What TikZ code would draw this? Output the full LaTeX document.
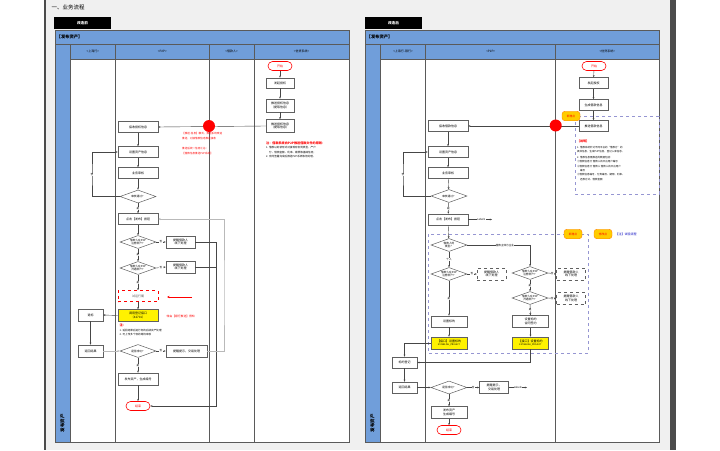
\documentclass[tikz,border=0pt]{standalone}
\usepackage{fontspec}
\newfontfamily\cjk{Noto Sans CJK SC}
\usetikzlibrary{shapes.geometric,arrows.meta}
\definecolor{hblue}{RGB}{112,158,218}
\definecolor{panel}{RGB}{240,240,240}
\definecolor{tagfill}{RGB}{255,204,0}
\definecolor{lav}{RGB}{150,150,210}
\definecolor{lnk}{RGB}{70,70,70}
\definecolor{loopc}{RGB}{185,185,185}
\definecolor{lanec}{RGB}{90,90,90}
\tikzset{
 every node/.style={font=\cjk\fontsize{3}{3.6}\selectfont, inner sep=0.5pt},
 lane/.style={draw=lanec, line width=0.6pt},
 stepbox/.style={draw=gray!75!black, fill=white, line width=0.5pt, minimum width=40pt, minimum height=11pt, align=center},
 smallbox/.style={stepbox, minimum width=29pt, minimum height=12pt},
 dashbox/.style={smallbox, dashed},
 ybox/.style={stepbox, fill=yellow, minimum height=12pt},
 trialbox/.style={stepbox, draw=red, dashed, text=gray!70!black},
 decision/.style={diamond, aspect=2.8, draw=gray!75!black, fill=white, line width=0.5pt, inner sep=0pt, minimum width=36pt, minimum height=13pt, align=center, font=\cjk\fontsize{2.7}{3.2}\selectfont},
 terminal/.style={draw=red, fill=white, text=red, rounded corners=4.5pt, minimum width=24pt, minimum height=9pt, line width=0.6pt},
 tag/.style={fill=tagfill, draw=orange, rounded corners=3pt, text=red, minimum width=18pt, minimum height=9.5pt, font=\cjk\fontsize{2.8}{3.3}\selectfont},
 arr/.style={draw=lnk, line width=0.4pt, -{Stealth[length=2.2pt,width=1.8pt]}},
 plain/.style={draw=lnk, line width=0.4pt},
 loopl/.style={draw=loopc, line width=0.8pt, -{Stealth[length=2.4pt,width=2pt]}},
 lbl/.style={fill=white, inner sep=0.3pt, font=\cjk\fontsize{2.6}{3}\selectfont},
 lanetxt/.style={font=\cjk\fontsize{3}{3.6}\selectfont},
 notetxt/.style={anchor=north west, align=left, font=\cjk\fontsize{2.6}{4.2}\selectfont},
 lavdash/.style={draw=lav, dashed, line width=0.5pt},
}
\begin{document}
\begin{tikzpicture}[x=1pt,y=-1pt]
\useasboundingbox (0,0) rectangle (720,450);
\fill[white] (0,0) rectangle (720,450);
\fill[panel] (46,0) rectangle (670,450);
\fill[gray!60!black] (44,0) rectangle (46,450);
\fill[gray!60!black] (670,0) rectangle (676,450);
\node[anchor=west, font=\cjk\fontsize{5.5}{6}\selectfont] (title) at (51,7) {一、业务流程};

% ================= LEFT (before) =================
\fill[black] (54,17) rectangle (111,29);
\node[font=\cjk\bfseries\fontsize{3.6}{4}\selectfont, text=white] (Ltab) at (82.5,23) {改造前};
\fill[white] (55,59) rectangle (349,442);
\fill[hblue] (55,30) rectangle (349,59);
\fill[hblue] (55,59) rectangle (70,442);
\draw[lane] (55,30) rectangle (349,442);
\draw[lane] (55,44) -- (349,44);
\draw[lane] (70,59) -- (349,59);
\draw[lane] (70,44) -- (70,442);
\draw[lane] (115.7,44) -- (115.7,442);
\draw[lane] (209,44) -- (209,442);
\draw[lane] (254,44) -- (254,442);
\node[anchor=west, font=\cjk\bfseries\fontsize{4.3}{5}\selectfont] (Lhdr) at (56,37) {【发布资产】};
\node[lanetxt] (Lh1) at (92.8,51.5) {<上海行>};
\node[lanetxt] (Lh2) at (162.3,51.5) {<P2P>};
\node[lanetxt] (Lh3) at (231.5,51.5) {<借款人>};
\node[lanetxt] (Lh4) at (301.5,51.5) {<信贷系统>};
\node[rotate=90, font=\cjk\bfseries\fontsize{4.5}{5}\selectfont] (Lvert) at (62.5,423) {发布资产};

\node[terminal] (Lstart) at (280,66) {开始};
\node[stepbox, minimum width=28pt, minimum height=10pt] (Lauth) at (280,83) {发起授权};
\node[stepbox, minimum width=28pt, minimum height=13pt] (Lpush1) at (280,105.5) {推送授权信息\\（提取信息）};
\node[stepbox, minimum width=28pt, minimum height=13pt] (Lpush2) at (280,126) {推送授权信息\\（提取信息）};
\node[stepbox] (Lrecv) at (138,127) {接收授权信息};
\node[stepbox] (Lset) at (138,152) {设置资产信息};
\node[stepbox] (Laudit) at (138,173) {业务审核};
\node[decision] (Ld0) at (138,196.5) {审核通过？};
\node[stepbox] (Lpub) at (138,219) {点击【发布】按钮};
\node[decision] (Ld1) at (138,242) {借款人在P2P\\注册账户？};
\node[smallbox] (Ln1) at (180.5,242) {提醒借款人\\线下处理};
\node[decision] (Ld2) at (138,268) {借款人在P2P\\开通账户？};
\node[smallbox] (Ln2) at (180.5,267) {提醒借款人\\线下处理};
\node[trialbox] (Ltrial) at (138,296) {试运行期};
\node[ybox] (Lapi) at (138,315.5) {调用登记接口\\（42701）};
\node[stepbox, minimum width=25pt, minimum height=12pt] (Lret) at (90.5,315) {退标};
\node[stepbox, minimum width=25pt, minimum height=12pt] (Lres) at (90.5,351) {返回结果};
\node[decision] (Ld3) at (138,351) {是否成功？};
\node[stepbox, minimum width=41pt, minimum height=12pt] (Ln3) at (186.5,351) {提醒提示，交易处理};
\node[stepbox, minimum height=12pt] (Lissue) at (138,379) {发布资产，生成编号};
\node[terminal] (Lend) at (138,406) {结束};

\coordinate (Lloop) at (92,175);
\coordinate (Lmx) at (216.5,406);
\coordinate (Lly) at (224,300);
\coordinate (Lra1) at (192,297);
\coordinate (Lra2) at (167,297);

\draw[arr] (Lstart) -- (Lauth);
\draw[arr] (Lauth) -- (Lpush1);
\draw[arr] (Lpush1) -- (Lpush2);
\draw[arr] (Lpush2.west) -- (Lrecv.east);
\node[circle, fill=red, minimum size=12pt, inner sep=0pt] (Lcirc) at (209,126) {};
\draw[arr] (Lrecv) -- (Lset);
\draw[arr] (Lset) -- (Laudit);
\draw[arr] (Laudit) -- (Ld0);
\draw[arr] (Ld0.west) -| (Lloop) |- (Lset.west);
\node[lbl] (Lno0) at (92,175) {否};
\draw[arr] (Ld0) -- node[lbl] (Lyes0) {是} (Lpub);
\draw[arr] (Lpub) -- (Ld1);
\draw[arr] (Ld1) -- node[lbl] (Lyes1) {是} (Ld2);
\draw[arr] (Ld2) -- node[lbl] (Lyes2) {是} (Ltrial);
\draw[arr] (Ltrial) -- (Lapi);
\draw[arr] (Ld1.east) -- node[lbl] (Lno1) {否} (Ln1.west);
\draw[arr] (Ld2.east) -- node[lbl] (Lno2) {否} (Ln2.west);
\draw[plain] (Ln1.east) -| (Lmx);
\draw[plain] (Ln2.east) -- (Ln2.east -| Lmx);
\draw[arr] (Lmx) -- (Lend.east);
\draw[arr] (Lapi.west) -- (Lret.east);
\draw[arr] (Lret) -- (Lres);
\draw[loopl] (Lres.east) -- (Ld3.west);
\draw[arr] (Ld3.east) -- node[lbl] (Lno3) {否} (Ln3.west);
\draw[loopl] (Ln3.east) -| (Lly) |- (Lpub.east);
\draw[arr] (Ld3) -- node[lbl] (Lyes3) {是} (Lissue);
\draw[arr] (Lissue) -- (Lend);
\draw[red, line width=0.9pt, -{Stealth[length=2.6pt,width=2.4pt]}] (Lra1) -- (Lra2);

\node[notetxt, text=red] (Lred1) at (181.5,132) {【推送-信息】模式，推送系统改造\\推送，对接借款信息推送接收};
\node[notetxt, text=red] (Lred2) at (181.5,147) {推送后统一信息汇总：\\【借款信息推送P2P系统】};
\node[anchor=west, text=red, font=\cjk\fontsize{2.8}{3.3}\selectfont] (Lred3) at (166,316) {转由【银行推送】得知};
\node[notetxt, font=\cjk\bfseries\fontsize{3.1}{3.6}\selectfont, text=red] (Lnote1) at (265.5,141.5) {注：借款系统向P2P推送借款文件的原则：};
\node[notetxt] (Lnote2) at (265.5,146) {1. 借款以封装形式对接现有合同类型，产户\\\hspace*{3pt}分、借款金额、利率、期限等基础信息；\\2. 合同签署完成后推送P2P系统等待处理。};
\node[notetxt] (Lnote3) at (119,323.5) {{\color{red}\fontsize{3.2}{4.2}\selectfont\bfseries 注：}\\1. 返回结果后进行标的后续资产处理\\2. 可上传多个标的等待审核};

% ================= RIGHT (after) =================
\fill[black] (365,17) rectangle (422,29);
\node[font=\cjk\bfseries\fontsize{3.6}{4}\selectfont, text=white] (Rtab) at (393.5,23) {改造后};
\fill[white] (365,59) rectangle (659,442);
\fill[hblue] (365,30) rectangle (659,59);
\fill[hblue] (365,59) rectangle (380,442);
\draw[lane] (365,30) rectangle (659,442);
\draw[lane] (365,44) -- (659,44);
\draw[lane] (380,59) -- (659,59);
\draw[lane] (380,44) -- (380,442);
\draw[lane] (425.7,44) -- (425.7,442);
\draw[lane] (555.7,44) -- (555.7,442);
\node[anchor=west, font=\cjk\bfseries\fontsize{4.3}{5}\selectfont] (Rhdr) at (366,37) {【发布资产】};
\node[lanetxt] (Rh1) at (403,51.5) {<上海行-银行>};
\node[lanetxt] (Rh2) at (490.7,51.5) {<P2P>};
\node[lanetxt] (Rh3) at (607.3,51.5) {<信贷系统>};
\node[rotate=90, font=\cjk\bfseries\fontsize{4.5}{5}\selectfont] (Rvert) at (372.5,423) {发布资产};

% dashed frames
\draw[lavdash] (575,116) rectangle (659,194);
\draw[lavdash] (428,234) rectangle (588,353);

\node[terminal] (Rstart) at (594,66) {开始};
\node[stepbox, minimum width=29pt, minimum height=11pt] (Rauth) at (593.5,83) {发起授权};
\node[stepbox, minimum width=29pt, minimum height=11pt] (Rgen) at (593.5,105) {生成借款信息};
\node[stepbox, minimum width=29pt, minimum height=11pt] (Rpush) at (593.5,126) {推送借款信息};
\node[stepbox] (Rrecv) at (448,126) {接收借款信息};
\node[stepbox] (Rset) at (448,152) {设置资产信息};
\node[stepbox] (Raudit) at (448,173) {业务审核};
\node[decision] (Rd0) at (449,196) {审核通过？};
\node[stepbox] (Rpub) at (448,219.5) {点击【发布】按钮};
\node[decision] (Rtype) at (449,245) {借款人的\\类型？};
\node[decision] (Rp1) at (449,274) {借款人在P2P\\注册账户？};
\node[dashbox] (Rpn1) at (491.5,274) {提醒借款人\\线下处理};
\node[decision] (Re1) at (530,273) {借款人在P2P\\注册账户？};
\node[dashbox] (Ren1) at (571,274) {提醒借款人\\线下处理};
\node[decision] (Re2) at (530,298) {借款人在P2P\\开通账户？};
\node[dashbox] (Ren2) at (571,298.5) {提醒借款人\\线下处理};
\node[stepbox, minimum width=36pt, minimum height=11pt] (Rpset) at (449,321.5) {设置标的};
\node[stepbox, minimum width=36pt, minimum height=12pt] (Resign) at (530.5,321.5) {设置标的\\合同签约};
\node[ybox, minimum width=36pt] (Rpapi) at (449,343) {【接口】设置标的\\{\fontsize{2.2}{2.8}\selectfont ESTABLISH\_PROJECT}};
\node[ybox, minimum width=36pt] (Reapi) at (530.5,343) {【接口】设置标的\\{\fontsize{2.2}{2.8}\selectfont ESTABLISH\_PROJECT}};
\node[stepbox, minimum width=25pt, minimum height=11pt] (Rreg) at (404.5,362.5) {标的登记};
\node[stepbox, minimum width=25pt, minimum height=11pt] (Rres) at (404.5,387.5) {返回结果};
\node[decision] (Rd3) at (449,387.5) {是否成功？};
\node[stepbox, minimum width=29pt, minimum height=12pt] (Rn3) at (494,387.5) {提醒提示，\\交易处理};
\node[stepbox, minimum width=36pt, minimum height=12pt] (Rissue) at (449,412.5) {发布资产\\生成编号};
\node[terminal] (Rend) at (449,430) {结束};
\node[tag] (Rtag1) at (573,234) {新增点};
\node[tag] (Rtag2) at (603,234) {修改点};
\node[anchor=west, text=blue!75!black, font=\cjk\fontsize{3}{3.6}\selectfont] (Rlegend) at (615,234) {【注】试验流程};

\coordinate (Rloop) at (403,175);
\coordinate (Rl1) at (492,219.5);
\coordinate (Rtx) at (530,245);
\coordinate (Rl2) at (527,387.5);

\draw[arr] (Rstart) -- (Rauth);
\draw[arr] (Rauth) -- (Rgen);
\draw[arr] (Rgen) -- (Rpush);
\draw[arr] (Rpush.west) -- (Rrecv.east);
\node[circle, fill=red, minimum size=12pt, inner sep=0pt] (Rcirc) at (555.7,125.5) {};
\node[tag] (Rtag0) at (571,116) {新增点};
\draw[arr] (Rrecv) -- (Rset);
\draw[arr] (Rset) -- (Raudit);
\draw[arr] (Raudit) -- (Rd0);
\draw[arr] (Rd0.west) -| (Rloop) |- (Rset.west);
\node[lbl] (Rno0) at (403,175) {否};
\draw[arr] (Rd0) -- node[lbl] (Ryes0) {是} (Rpub);
\draw[arr] (Rpub.east) -- node[lbl, pos=0.55] (Rlab1) {Label1} (Rl1);
\draw[arr] (Rpub) -- (Rtype);
\draw[plain] (Rtype.east) -- node[lbl, pos=0.6] (Rcorp) {借款主体为企业} (Rtx);
\draw[arr] (Rtx) -- (Re1.north);
\draw[arr] (Rtype) -- node[lbl] (Rpers) {个人} (Rp1);
\draw[arr] (Rp1.east) -- node[lbl] (Rno1) {否} (Rpn1.west);
\draw[arr] (Re1.east) -- node[lbl] (Rno2) {否} (Ren1.west);
\draw[arr] (Re2.east) -- node[lbl] (Rno3) {否} (Ren2.west);
\draw[arr] (Re1) -- node[lbl] (Ryes1) {是} (Re2);
\draw[arr] (Re2) -- node[lbl] (Ryes2) {是} (Resign);
\draw[arr] (Rp1) -- node[lbl] (Ryes3) {是} (Rpset);
\draw[arr] (Rpset) -- (Rpapi);
\draw[arr] (Resign) -- (Reapi);
\draw[arr] (Rpapi.west) -| (Rreg.north);
\draw[arr] (Reapi.south) |- (Rreg.east);
\draw[arr] (Rreg) -- (Rres);
\draw[arr] (Rres.east) -- (Rd3.west);
\draw[arr] (Rd3.east) -- node[lbl] (Rno4) {否} (Rn3.west);
\draw[arr] (Rn3.east) -- node[lbl, pos=0.5] (Rlab2) {Label1} (Rl2);
\draw[arr] (Rd3) -- node[lbl] (Ryes4) {是} (Rissue);
\draw[arr] (Rissue) -- (Rend);

\node[notetxt, font=\cjk\fontsize{2.5}{4.3}\selectfont] (Rnote) at (576.5,139) {{\color{red}\bfseries\fontsize{3}{4.3}\selectfont【说明】}\\[1.5pt]1. 借款系统针对不同平台的“借款方”的\\具体信息，生成P2P信息，登记入库信息。\\[2pt]2. 借款信息需推送的数据包括：\\①借款信息分 借款人的平台用户编号\\②借款信息分 借款人 借款人的平台用户\\\hspace*{3pt}编号\\③借款信息编号，分类编号、期限、利率、\\\hspace*{3pt}还款方式、借款金额};
\end{tikzpicture}
\end{document}
